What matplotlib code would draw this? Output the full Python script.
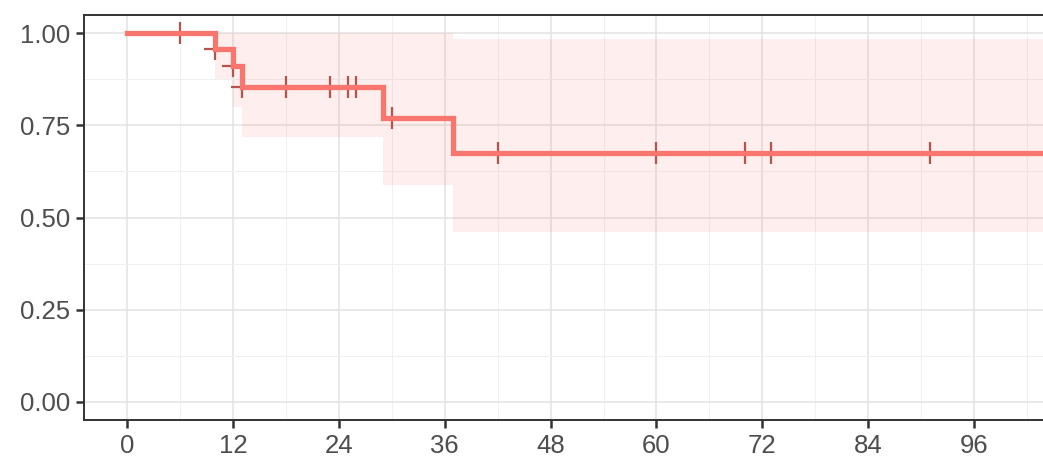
import matplotlib
matplotlib.use("Agg")
import matplotlib.pyplot as plt
import numpy as np

# Kaplan-Meier estimate (months) with 95% confidence band
event_times = [0, 10, 12, 13, 29, 37]
surv = [1.0, 0.957, 0.911, 0.854, 0.770, 0.674]
ci_lower = [1.0, 0.876, 0.800, 0.718, 0.588, 0.461]
ci_upper = [1.0, 1.0, 1.0, 1.0, 1.0, 0.986]
followup_end = 106

# censored observations (months)
censor_times = [6, 10, 12, 13, 18, 23, 25, 26, 30, 42, 60, 70, 73, 91]

x_ticks = [0, 12, 24, 36, 48, 60, 72, 84, 96]
y_ticks = [0.00, 0.25, 0.50, 0.75, 1.00]
y_tick_labels = ["0.00", "0.25", "0.50", "0.75", "1.00"]

line_color = "#F8766D"
censor_color = "#B5534C"

plt.rcParams["font.family"] = ["Liberation Sans", "DejaVu Sans"]

W, H = 1043, 457
fig = plt.figure(figsize=(W / 100, H / 100), dpi=100)
ax = fig.add_axes([84 / W, (H - 420) / H, (W - 84) / W, (420 - 15) / H])

# step curve and band extended to end of follow-up
t_step = np.array(event_times + [followup_end], dtype=float)
s_step = np.array(surv + [surv[-1]])
lo_step = np.array(ci_lower + [ci_lower[-1]])
hi_step = np.array(ci_upper + [ci_upper[-1]])

ax.fill_between(t_step, lo_step, hi_step, step="post",
                color=line_color, alpha=0.12, linewidth=0, zorder=2)
ax.step(t_step, s_step, where="post", color=line_color, lw=3.8,
        solid_joinstyle="miter", zorder=4)

# survival value at each censoring time; marks sit beneath the curve
idx = np.searchsorted(event_times, censor_times, side="right") - 1
censor_surv = np.array(surv)[idx]
ax.plot(censor_times, censor_surv, linestyle="none", marker="+",
        markersize=16, markeredgewidth=1.6, color=censor_color, zorder=3)

ax.set_xlim(-4.87, 103.8)
ax.set_ylim(-0.05, 1.05)

ax.set_xticks(x_ticks)
ax.set_xticklabels([str(v) for v in x_ticks])
ax.set_yticks(y_ticks)
ax.set_yticklabels(y_tick_labels)
ax.set_xticks(np.arange(6, 104, 12), minor=True)
ax.set_yticks([0.125, 0.375, 0.625, 0.875], minor=True)

ax.grid(which="major", color="#E3E3E3", lw=1.1, zorder=0)
ax.grid(which="minor", color="#F0F0F0", lw=0.7, zorder=0)
ax.set_axisbelow(True)

ax.tick_params(which="major", length=6, width=1.8, color="#333333",
               labelsize=18.5, labelcolor="#4D4D4D", pad=4)
ax.tick_params(which="minor", length=0)

for side in ["left", "top", "bottom"]:
    ax.spines[side].set_color("#333333")
    ax.spines[side].set_linewidth(1.4)
ax.spines["right"].set_visible(False)

fig.savefig("out.png", dpi=100)
